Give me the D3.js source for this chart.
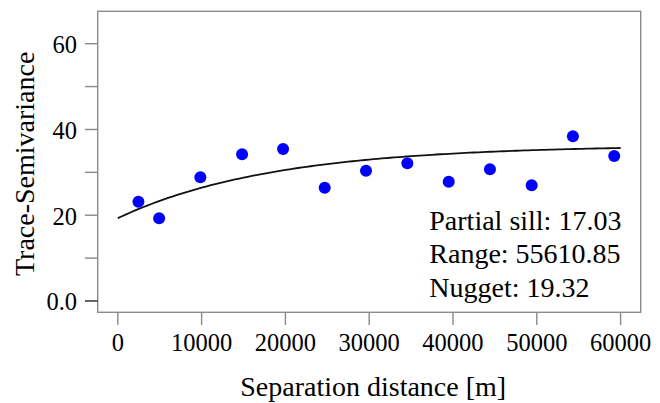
<!DOCTYPE html>
<html lang="en">
<head>
    <meta charset="UTF-8">
    <title>Variogram</title>
    <script src="https://d3js.org/d3.v7.min.js"></script>
    <style>
        body { margin: 0; background: #fff; }
        text { font-family: "Liberation Serif", "Times New Roman", serif; fill: #000; }
        .frame { fill: none; stroke: #8a8a8a; stroke-width: 1.4; }
        .tick { stroke: #8a8a8a; stroke-width: 1.4; }
    </style>
</head>
<body>
    <svg width="660" height="403"></svg>
    <script>
        // empirical semivariance bins
        const lagDist = [2460, 4930, 9850, 14830, 19720, 24690, 29620, 34550, 39490, 44410, 49390, 54310, 59240];
        const gamma = [23.16, 19.29, 28.85, 34.21, 35.45, 26.42, 30.39, 32.11, 27.82, 30.71, 26.98, 38.41, 33.81];

        // fitted exponential model
        const psill = 17.03, range = 55610.85, nugget = 19.32;
        const modelDist = d3.range(0, 60001, 500);

        const xTicks = [0, 10000, 20000, 30000, 40000, 50000, 60000];
        const yTicks = [0, 10, 20, 30, 40, 50, 60];
        const yLabels = {0: "0.0", 20: "20", 40: "40", 60: "60"};
        const infoLines = ["Partial sill: 17.03", "Range: 55610.85", "Nugget: 19.32"];

        const svg = d3.select("svg");
        const plotL = 97.7, plotR = 640.7, plotT = 11.3, plotB = 312.3;

        const x = d3.scaleLinear().domain([-2400, 62400]).range([plotL, plotR]);
        const y = d3.scaleLinear().domain([-2.64, 67.56]).range([plotB, plotT]);

        const model = h => nugget + psill * (1 - Math.exp(-3 * h / range));

        // curve
        svg.append("path")
            .datum(modelDist)
            .attr("fill", "none")
            .attr("stroke", "#111")
            .attr("stroke-width", 1.8)
            .attr("d", d3.line().x(d => x(d)).y(d => y(model(d))));

        // points
        svg.selectAll("circle")
            .data(lagDist)
            .join("circle")
            .attr("cx", d => x(d))
            .attr("cy", (d, i) => y(gamma[i]))
            .attr("r", 6)
            .attr("fill", "#0000ff");

        // frame
        svg.append("rect")
            .attr("class", "frame")
            .attr("x", plotL).attr("y", plotT)
            .attr("width", plotR - plotL).attr("height", plotB - plotT);

        // x axis
        const xg = svg.append("g");
        xg.selectAll("line").data(xTicks).join("line")
            .attr("class", "tick")
            .attr("x1", d => x(d)).attr("x2", d => x(d))
            .attr("y1", plotB).attr("y2", plotB + 12.7);
        xg.selectAll("text").data(xTicks).join("text")
            .attr("x", d => x(d)).attr("y", 351)
            .attr("text-anchor", "middle")
            .style("font-size", "24.5px")
            .text(d => d);

        // y axis
        const yg = svg.append("g");
        yg.selectAll("line").data(yTicks).join("line")
            .attr("class", "tick")
            .style("stroke", d => d === 0 ? "#222" : null)
            .attr("x1", plotL - 12.7).attr("x2", plotL)
            .attr("y1", d => y(d)).attr("y2", d => y(d));
        yg.selectAll("text").data(yTicks.filter(d => yLabels[d])).join("text")
            .attr("x", 77)
            .attr("y", d => y(d) + 9.5)
            .attr("text-anchor", "end")
            .style("font-size", "24.5px")
            .text(d => yLabels[d]);

        // axis titles
        svg.append("text")
            .attr("x", (plotL + plotR) / 2 + 4).attr("y", 396)
            .attr("text-anchor", "middle")
            .style("font-size", "28px")
            .text("Separation distance [m]");

        svg.append("text")
            .attr("transform", `translate(34, ${(plotT + plotB) / 2 + 2}) rotate(-90)`)
            .attr("text-anchor", "middle")
            .style("font-size", "28px")
            .text("Trace-Semivariance");

        // model parameters
        svg.selectAll(".info").data(infoLines).join("text")
            .attr("class", "info")
            .attr("x", 429.3)
            .attr("y", (d, i) => 230 + i * 33.4)
            .style("font-size", "28px")
            .text(d => d);
    </script>
</body>
</html>
